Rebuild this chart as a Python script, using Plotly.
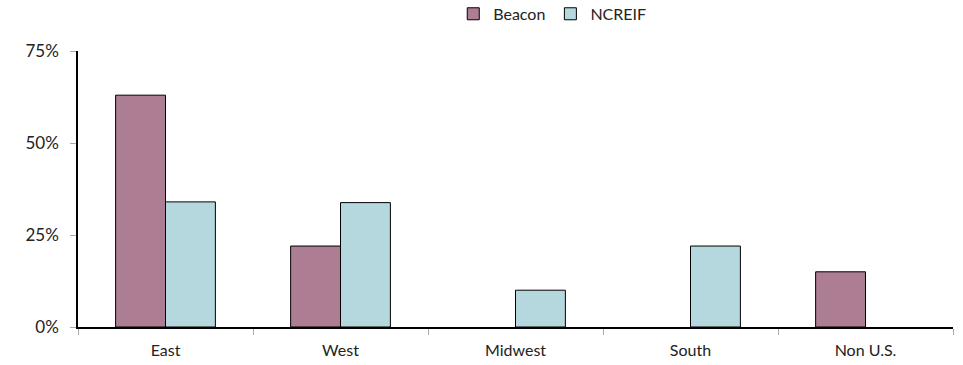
import plotly.graph_objects as go

regions = ["East", "West", "Midwest", "South", "Non U.S."]
beacon = [63, 22, 0, 0, 15]
ncreif = [34, 33.8, 10, 22, 0]
y_ticks = [0, 25, 50, 75]
y_tick_labels = ["0%", "25%", "50%", "75%"]

font_family = "Lato, 'Open Sans', sans-serif"


def bars(values):
    # empty allocations are left without a bar outline
    return [v if v else None for v in values]


fig = go.Figure()
fig.add_trace(go.Bar(
    x=regions, y=bars(beacon), name="Beacon",
    marker=dict(color="#AD7D94", line=dict(color="#000000", width=1)),
))
fig.add_trace(go.Bar(
    x=regions, y=bars(ncreif), name="NCREIF",
    marker=dict(color="#B5D8DE", line=dict(color="#000000", width=1)),
))

fig.update_layout(
    width=963, height=365,
    margin=dict(l=78, r=10, t=51, b=38, autoexpand=False),
    paper_bgcolor="white", plot_bgcolor="white",
    barmode="group", bargap=0.43, bargroupgap=0,
    font=dict(family=font_family, size=16, color="#222222"),
    legend=dict(orientation="h", x=0.542, xanchor="center",
                yref="container", y=0.962, yanchor="middle",
                font=dict(size=16), itemwidth=30, traceorder="normal",
                tracegroupgap=0),
    showlegend=True,
)
fig.update_xaxes(
    showline=True, linecolor="#000000", linewidth=1.5,
    ticks="outside", tickson="boundaries", ticklen=6, tickcolor="#aaaaaa",
    showgrid=False, tickfont=dict(size=16), ticklabelstandoff=8,
)
fig.update_yaxes(
    range=[0, 75], tickvals=y_ticks, ticktext=y_tick_labels,
    showline=True, linecolor="#000000", linewidth=1.5,
    ticks="outside", ticklen=6, tickcolor="#aaaaaa",
    showgrid=False, zeroline=False, tickfont=dict(size=17),
    ticklabelstandoff=8,
)

fig.write_html("out.html")
